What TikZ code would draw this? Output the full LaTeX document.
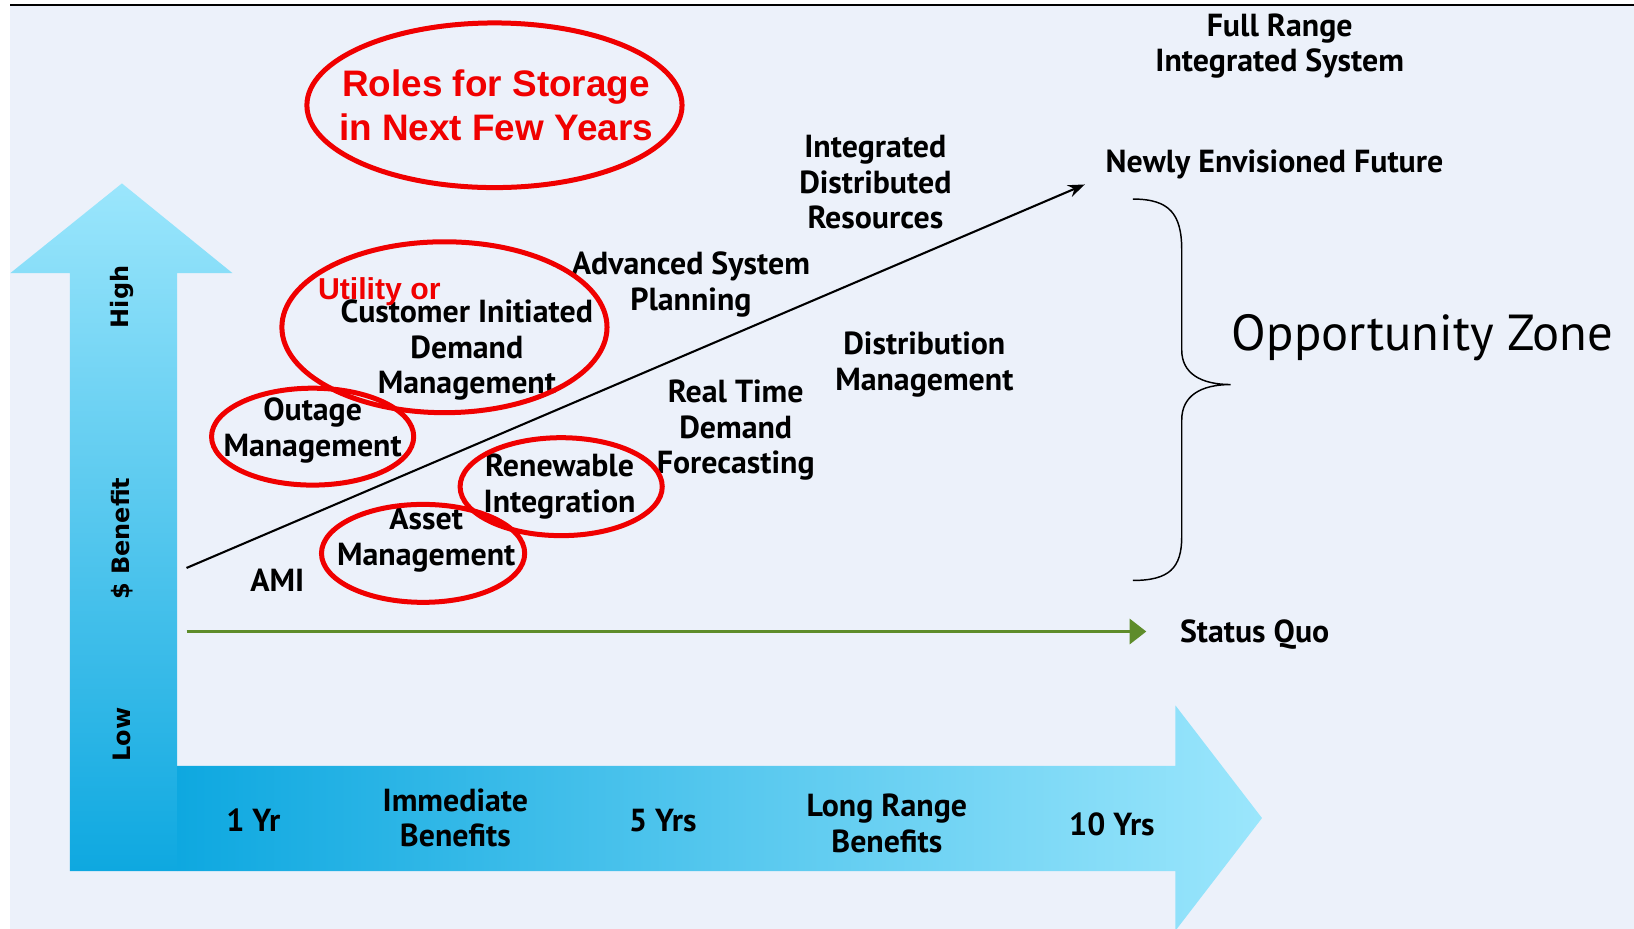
\documentclass[tikz,border=0pt]{standalone}
\usepackage{fontspec}
\usetikzlibrary{arrows.meta,shapes.geometric}
\newfontfamily\labf{PT Sans}
\newfontfamily\redf{Liberation Sans}
\newfontfamily\axf{DejaVu Sans}
\definecolor{bgc}{RGB}{236,241,250}
\definecolor{cyL}{RGB}{155,230,252}
\definecolor{cyM}{RGB}{95,200,239}
\definecolor{cyVM}{RGB}{110,208,243}
\definecolor{cyD}{RGB}{14,168,224}
\definecolor{redc}{RGB}{240,0,0}
\definecolor{grn}{RGB}{94,140,42}
\begin{document}
\begin{tikzpicture}[x=0.5pt,y=-0.5pt,
  lbl/.style={font=\labf\bfseries\fontsize{15.3}{17}\selectfont,align=center,inner sep=0pt},
  axl/.style={font=\axf\bfseries\fontsize{11.5}{13}\selectfont,rotate=90,inner sep=0pt},
  redell/.style={draw=redc,line width=2.4pt,ellipse,inner sep=0pt},
  redt/.style={font=\redf\bfseries\fontsize{17.7}{21}\selectfont,text=redc,align=center,inner sep=0pt}]

\useasboundingbox (0,0) rectangle (1568,891);
\fill[white] (0,0) rectangle (1568,891);
\fill[bgc] (10,6) rectangle (1568,891);
\draw[line width=0.8pt] (10,5) -- (1568,5);

% vertical axis arrow
\shade[top color=cyL, middle color=cyVM, bottom color=cyD]
  (67,836) -- (67,262) -- (10,262) -- (117,176) -- (223,262) -- (170,262) -- (170,836) -- cycle;
% horizontal axis arrow
\shade[left color=cyD, middle color=cyM, right color=cyL]
  (170,735) -- (1128,735) -- (1128,677) -- (1211,785) -- (1128,893) -- (1128,836) -- (170,836) -- cycle;

\node[axl] (high) at (117,285) {High};
\node[axl] (ben) at (117,517) {\$ Benefit};
\node[axl] (low) at (117,705) {Low};

% trend line
\coordinate (ts) at (179,545);
\coordinate (te) at (1041,177);
\draw[line width=1pt,-{Stealth[length=8pt,width=6pt]}] (ts) -- (te);

% status quo line
\coordinate (gs) at (179,606);
\coordinate (ge) at (1100,606);
\draw[grn,line width=1.6pt,-{Triangle[length=8pt,width=12pt]}] (gs) -- (ge);

% brace
\draw[line width=0.7pt] (1087,191) .. controls (1122,191) and (1134,205) .. (1134,240)
  -- (1134,336) .. controls (1134,358) and (1152,369) .. (1181,369)
  .. controls (1152,369) and (1134,380) .. (1134,403)
  -- (1134,515) .. controls (1134,545) and (1122,557) .. (1087,557);

% labels
\node[lbl] (fr) at (1228,44) {Full Range\\Integrated System};
\node[lbl] (idr) at (840,175) {Integrated\\Distributed\\Resources};
\node[lbl] (nef) at (1223,158) {Newly Envisioned Future};
\node[font=\labf\fontsize{24.3}{30}\selectfont,inner sep=0pt] (oz) at (1365,324) {Opportunity Zone};
\node[lbl] (asp) at (663,273) {Advanced System\\Planning};
\node[lbl] (dm) at (887,350) {Distribution\\Management};
\node[lbl] (rtdf) at (706,413) {Real Time\\Demand\\Forecasting};
\node[lbl] (cidm) at (448,336) {Customer Initiated\\Demand\\Management};
\node[lbl] (om) at (300,413) {Outage\\Management};
\node[lbl] (ri) at (537,467) {Renewable\\Integration};
\node[lbl] (am) at (409,518) {Asset\\Management};
\node[lbl] (ami) at (266,557) {AMI};
\node[lbl] (sq) at (1204,609) {Status Quo};
\node[lbl] (y1) at (243,787) {1 Yr};
\node[lbl] (ib) at (437,785) {Immediate\\Benefits};
\node[lbl] (y5) at (636,787) {5 Yrs};
\node[lbl] (lrb) at (851,790) {Long Range\\Benefits};
\node[lbl] (y10) at (1067,791) {10 Yrs};

% red ellipses
\node[redell,minimum width=180pt,minimum height=79pt] (e1) at (474.5,101) {};
\node[redell,minimum width=156pt,minimum height=82pt] (e2) at (426.5,314) {};
\node[redell,minimum width=97pt,minimum height=46.5pt] (e3) at (300,419) {};
\node[redell,minimum width=97pt,minimum height=47pt] (e4) at (538.5,467) {};
\node[redell,minimum width=97.5pt,minimum height=47pt] (e5) at (406,531) {};

\node[redt] (roles) at (476,101) {Roles for Storage\\in Next Few Years};
\node[redt,font=\redf\bfseries\fontsize{14.5}{17}\selectfont] (uo) at (364,280) {Utility or};
\end{tikzpicture}
\end{document}
